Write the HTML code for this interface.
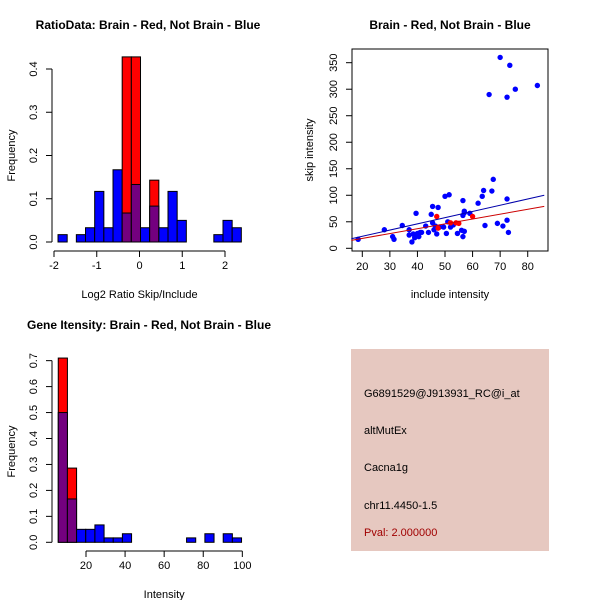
<!DOCTYPE html>
<html><head><meta charset="utf-8"><style>
body{margin:0;background:#fff}
svg{display:block;font-family:"Liberation Sans",sans-serif}
</style></head><body>
<svg id="s" width="600" height="600" viewBox="0 0 600 600">
<rect width="600" height="600" fill="#fff"/>
<text x="148" y="29" font-size="12" font-weight="bold" text-anchor="middle">RatioData: Brain - Red, Not Brain - Blue</text>
<text x="450" y="29" font-size="12" font-weight="bold" text-anchor="middle">Brain - Red, Not Brain - Blue</text>
<text x="149" y="329" font-size="12" font-weight="bold" text-anchor="middle">Gene Itensity: Brain - Red, Not Brain - Blue</text>
<g id="g1"></g>
<g id="g2"></g>
<g id="g3"></g>
<g>
<rect x="351" y="349" width="198" height="202" fill="#e6c8c0"/>
<text x="364" y="397" font-size="11">G6891529@J913931_RC@i_at</text>
<text x="364" y="434" font-size="11">altMutEx</text>
<text x="364" y="471" font-size="11">Cacna1g</text>
<text x="364" y="509" font-size="11">chr11.4450-1.5</text>
<text x="364" y="536" font-size="11" fill="#a00000">Pval: 2.000000</text>
</g>
</svg>
<script>
const ratioBlue=[0.017,0,0.017,0.033,0.117,0.033,0.167,0.067,0.133,0.033,0.083,0.033,0.117,0.05,0,0,0,0.017,0.05,0.033];
const ratioRed=[0,0,0,0,0,0,0,0.428,0.428,0,0.143,0,0,0,0,0,0,0,0,0];
const ratioXTicks=[-2,-1,0,1,2];
const ratioYTicks=[0,0.1,0.2,0.3,0.4];
const intBlue=[0.5,0.167,0.05,0.05,0.067,0.017,0.017,0.033,0,0,0,0,0,0,0.017,0,0.033,0,0.033,0.017];
const intRed=[0.71,0.286,0,0,0,0,0,0,0,0,0,0,0,0,0,0,0,0,0,0];
const intXTicks=[20,40,60,80,100];
const intYTicks=[0,0.1,0.2,0.3,0.4,0.5,0.6,0.7];
const notBrainX=[18.5,28,31,31.5,34.5,37,37,38,38.5,39,39.5,40,40.5,41,41.5,43,44,45,45.5,45.5,46,46.5,47,47.5,48,49.5,50,50.5,51,51.5,52,53,54.5,56,56.5,56.5,56.5,57,57,57,59,62,63.5,64,64.5,66,67,67.5,69,70,71,72.5,72.5,72.5,73,73.5,75.5,83.5];
const notBrainY=[17,35,22,17,43,35,25,12,27,20,66,28,22,30,30,42,30,64,79,48,35,42,27,77,40,40,98,28,50,101,40,44,28,34,90,62,22,70,32,67,66,85,98,109,43,290,108,130,47,360,42,285,93,53,30,345,300,307];
const brainX=[47,47.5,52,54,55,60];
const brainY=[60,38,48,48,47,60];
const blueFit=[16,18,86,100];
const redFit=[16,15,86,79];
const scatXTicks=[20,30,40,50,60,70,80];
const scatYTicks=[0,50,100,150,200,250,300,350];
const NS="http://www.w3.org/2000/svg";
function mk(p,t,a){const e=document.createElementNS(NS,t);for(const k in a)e.setAttribute(k,a[k]);p.appendChild(e);return e;}
function txt(p,x,y,s,rot,anchor){const e=mk(p,'text',{x:x,y:y,'font-size':11,'text-anchor':anchor||'middle'});if(rot)e.setAttribute('transform','rotate(-90 '+x+' '+y+')');e.textContent=s;return e;}

function hist(g,blue,red,x0,bw,sx,sy,xt,yt,axY,yAxX,xlab,xlabY,fmtY,xmin,xmax){
  for(let i=0;i<blue.length;i++){
    const a=sx(x0+i*bw),b=sx(x0+(i+1)*bw);
    const top=Math.max(blue[i],red[i]);if(top<=0)continue;
    const over=Math.min(blue[i],red[i]);
    const col=blue[i]>=red[i]?'#0000ff':'#ff0000';
    const r=mk(g,'rect',{x:a,y:sy(top),width:b-a,height:sy(0)-sy(top),fill:col,stroke:'#000','stroke-width':1});
    
    
    if(over>0){
      const r2=mk(g,'rect',{x:a,y:sy(over),width:b-a,height:sy(0)-sy(over),fill:'#73007f',stroke:'#000','stroke-width':1});
      
      
    }
  }
  mk(g,'line',{x1:sx(xmin),x2:sx(xmax),y1:axY,y2:axY,stroke:'#000'});
  xt.forEach(v=>{mk(g,'line',{x1:sx(v),x2:sx(v),y1:axY,y2:axY+6,stroke:'#000'});txt(g,sx(v),axY+18,String(v));});
  mk(g,'line',{x1:yAxX,x2:yAxX,y1:sy(yt[0]),y2:sy(yt[yt.length-1]),stroke:'#000'});
  yt.forEach(v=>{mk(g,'line',{x1:yAxX,x2:yAxX-6,y1:sy(v),y2:sy(v),stroke:'#000'});txt(g,yAxX-15,sy(v),fmtY(v),true);});
  txt(g,15,sy(yt[0])-(sy(yt[0])-sy(yt[yt.length-1]))/2,'Frequency',true);
  txt(g,(sx(xmin)+sx(xmax))/2,xlabY,xlab);
}
const g1=document.getElementById('g1');
hist(g1,ratioBlue,ratioRed,-1.906,0.2144,v=>54+(v+2)*42.75,v=>242-v*432.5,ratioXTicks,ratioYTicks,251,52,'Log2 Ratio Skip/Include',298,v=>v.toFixed(1),-2,2);
const g3=document.getElementById('g3');
hist(g3,intBlue,intRed,5.8,4.69,v=>86+(v-20)*1.954,v=>542.3-v*259.5,intXTicks,intYTicks,551,52,'Intensity',598,v=>v.toFixed(1),20,100);

const g2=document.getElementById('g2');
const sx=v=>362.3+(v-20)*2.757, sy=v=>248.3-v*0.5303;
mk(g2,'rect',{x:352,y:49,width:196,height:202,fill:'none',stroke:'#000'});
scatXTicks.forEach(v=>{mk(g2,'line',{x1:sx(v),x2:sx(v),y1:251,y2:257,stroke:'#000'});txt(g2,sx(v),270,String(v));});
scatYTicks.forEach(v=>{mk(g2,'line',{x1:352,x2:346,y1:sy(v),y2:sy(v),stroke:'#000'});txt(g2,337,sy(v),String(v),true);});
txt(g2,450,298,'include intensity');
txt(g2,313,150,'skip intensity',true);
notBrainX.forEach((x,i)=>{const c=mk(g2,'circle',{cx:sx(x),cy:sy(notBrainY[i]),r:2.7,fill:'#0000ff'});

});
brainX.forEach((x,i)=>{const c=mk(g2,'circle',{cx:sx(x),cy:sy(brainY[i]),r:2.7,fill:'#ff0000'});

});
const l1=mk(g2,'line',{x1:sx(blueFit[0]),y1:sy(blueFit[1]),x2:sx(blueFit[2]),y2:sy(blueFit[3]),stroke:'#0000aa'});


const l2=mk(g2,'line',{x1:sx(redFit[0]),y1:sy(redFit[1]),x2:sx(redFit[2]),y2:sy(redFit[3]),stroke:'#cc0000'});


</script>
</body></html>
